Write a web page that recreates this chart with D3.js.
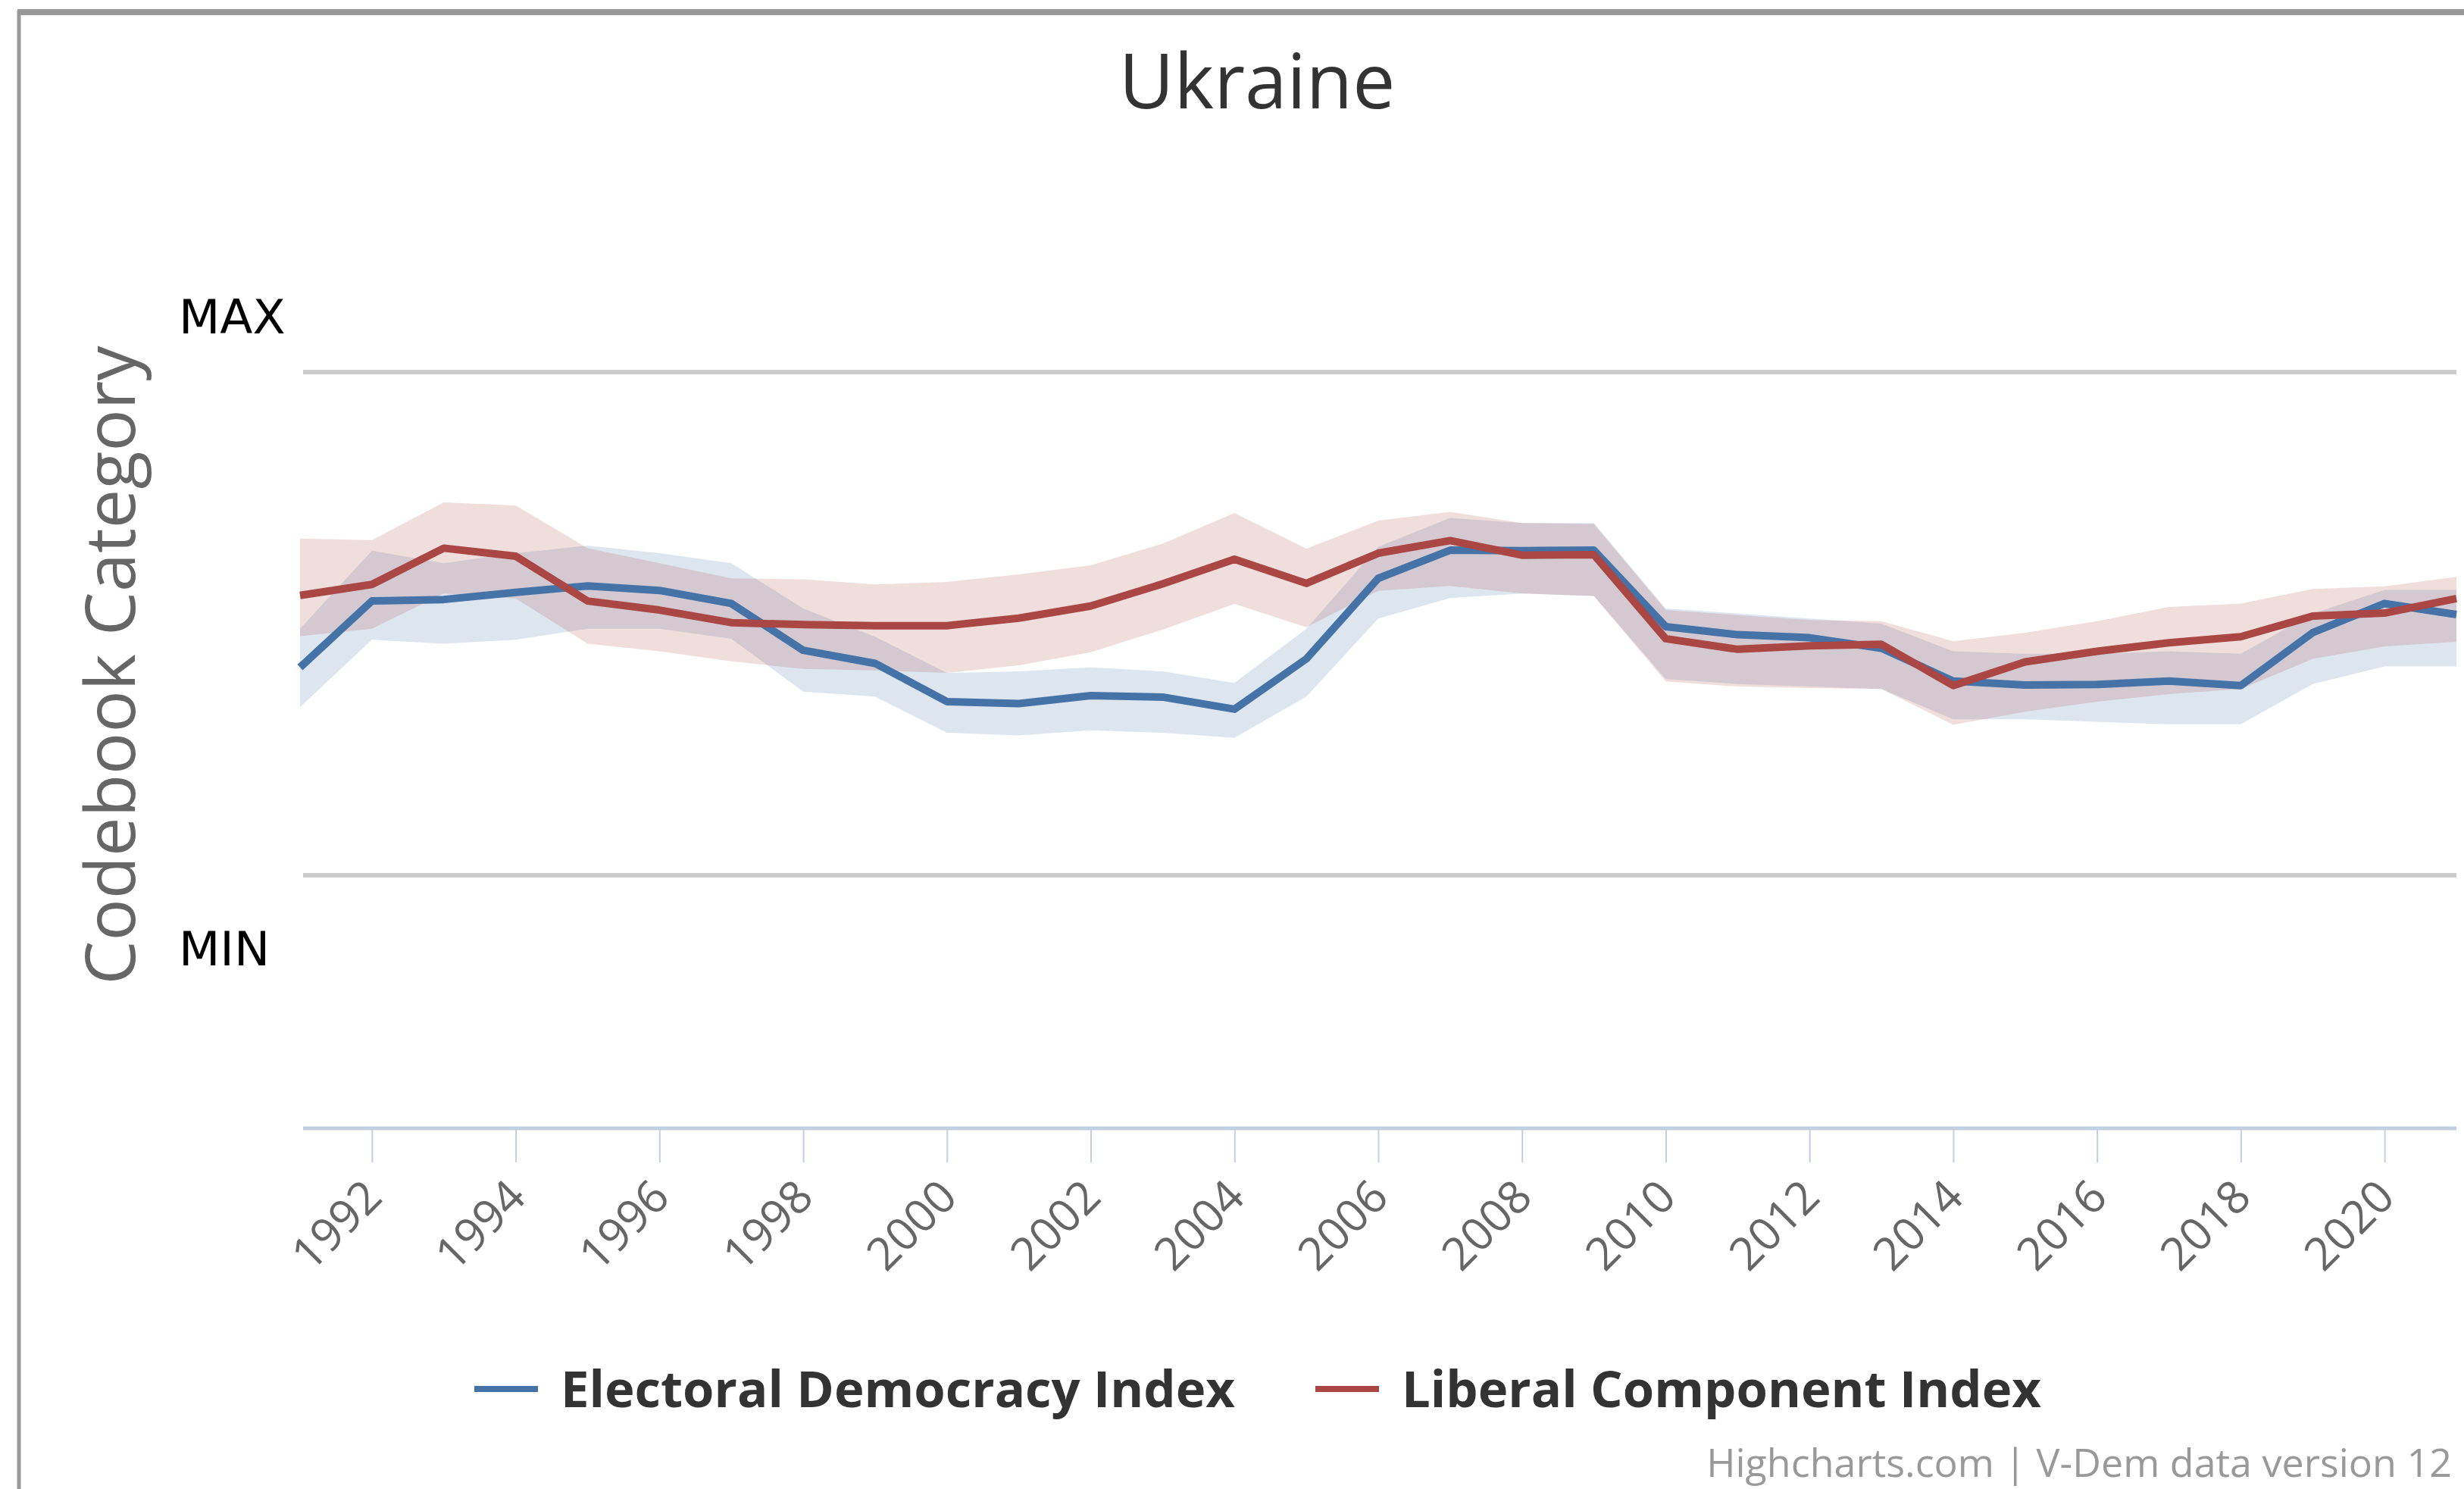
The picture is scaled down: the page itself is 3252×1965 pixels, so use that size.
<!DOCTYPE html>
<html>
<head>
<meta charset="utf-8">
<script src="https://cdn.jsdelivr.net/npm/d3@7"></script>
<style>
  html, body { margin: 0; padding: 0; background: #fff; }
  svg { display: block; }
</style>
</head>
<body>
<svg id="chart" width="3252" height="1965"></svg>
<script>
const years = d3.range(1991, 2022);
const tickYears = d3.range(1992, 2021, 2);

// Electoral Democracy Index (blue) with its uncertainty band
const ediValues = [0.413, 0.545, 0.548, 0.562, 0.575, 0.566, 0.540, 0.447, 0.421, 0.345,
  0.341, 0.357, 0.354, 0.330, 0.430, 0.590, 0.646, 0.645, 0.646, 0.494,
  0.478, 0.472, 0.451, 0.386, 0.378, 0.379, 0.386, 0.377, 0.482, 0.540, 0.518];
const ediHigh = [0.490, 0.645, 0.620, 0.640, 0.655, 0.640, 0.620, 0.530, 0.474, 0.402,
  0.405, 0.413, 0.405, 0.382, 0.490, 0.653, 0.710, 0.700, 0.700, 0.530,
  0.520, 0.510, 0.500, 0.445, 0.440, 0.440, 0.445, 0.440, 0.520, 0.567, 0.567];
const ediLow = [0.334, 0.468, 0.460, 0.468, 0.490, 0.490, 0.470, 0.365, 0.355, 0.283,
  0.278, 0.288, 0.283, 0.273, 0.355, 0.510, 0.551, 0.560, 0.555, 0.390,
  0.380, 0.375, 0.370, 0.310, 0.310, 0.305, 0.300, 0.300, 0.380, 0.415, 0.415];

// Liberal Component Index (red) with its uncertainty band
const lciValues = [0.556, 0.578, 0.650, 0.634, 0.545, 0.527, 0.502, 0.498, 0.496, 0.496,
  0.511, 0.535, 0.579, 0.628, 0.580, 0.640, 0.665, 0.636, 0.637, 0.470,
  0.449, 0.456, 0.459, 0.377, 0.424, 0.445, 0.462, 0.474, 0.515, 0.521, 0.550];
const lciHigh = [0.669, 0.666, 0.741, 0.735, 0.650, 0.620, 0.590, 0.588, 0.578, 0.583,
  0.598, 0.616, 0.659, 0.720, 0.649, 0.705, 0.722, 0.700, 0.698, 0.527,
  0.517, 0.507, 0.505, 0.465, 0.482, 0.505, 0.533, 0.540, 0.569, 0.574, 0.593];
const lciLow = [0.475, 0.490, 0.560, 0.550, 0.460, 0.445, 0.425, 0.410, 0.407, 0.402,
  0.417, 0.443, 0.488, 0.539, 0.493, 0.565, 0.575, 0.560, 0.555, 0.385,
  0.375, 0.372, 0.370, 0.299, 0.325, 0.345, 0.360, 0.370, 0.430, 0.455, 0.464];

const seriesNames = ['Electoral Democracy Index', 'Liberal Component Index'];
const seriesColors = ['#4572A7', '#AA4643'];

const svg = d3.select('#chart');

// chart frame
svg.append('line').attr('x1', 25).attr('x2', 25).attr('y1', 14).attr('y2', 1965)
  .attr('stroke', '#999').attr('stroke-width', 5);
svg.append('line').attr('x1', 23).attr('x2', 3252).attr('y1', 16).attr('y2', 16)
  .attr('stroke', '#999').attr('stroke-width', 8);

const x = d3.scaleLinear()
  .domain([1991, 2021])
  .range([396, 3242]);
const y = d3.scaleLinear()
  .domain([0, 1])
  .range([1155, 491]);

svg.append('text')
  .attr('x', 1659).attr('y', 143)
  .attr('text-anchor', 'middle')
  .attr('font-family', 'Open Sans')
  .attr('font-size', 100)
  .attr('fill', '#333')
  .text('Ukraine');

// MAX / MIN grid lines
[1, 0].forEach(v => {
  svg.append('line')
    .attr('x1', 400).attr('x2', 3242)
    .attr('y1', y(v)).attr('y2', y(v))
    .attr('stroke', '#cccccc').attr('stroke-width', 6);
});
svg.append('text').attr('x', 236).attr('y', y(1) - 51)
  .attr('font-family', 'DejaVu Sans').attr('font-size', 63).attr('fill', '#000')
  .text('MAX');
svg.append('text').attr('x', 236).attr('y', y(0) + 119)
  .attr('font-family', 'DejaVu Sans').attr('font-size', 63).attr('fill', '#000')
  .text('MIN');

svg.append('text')
  .attr('transform', 'translate(178,878) rotate(-90)')
  .attr('text-anchor', 'middle')
  .attr('font-family', 'Open Sans')
  .attr('font-size', 92)
  .attr('fill', '#666')
  .text('Codebook Category');

// bands then lines
const bands = [
  { lo: ediLow, hi: ediHigh, color: seriesColors[0] },
  { lo: lciLow, hi: lciHigh, color: seriesColors[1] }
];
const area = d3.area()
  .x(d => x(d.year))
  .y0(d => y(d.lo))
  .y1(d => y(d.hi));

bands.forEach(b => {
  const rows = years.map((yr, i) => ({ year: yr, lo: b.lo[i], hi: b.hi[i] }));
  svg.append('path')
    .datum(rows)
    .attr('d', area)
    .attr('fill', b.color)
    .attr('fill-opacity', 0.18);
});

const line = d3.line()
  .x(d => x(d.year))
  .y(d => y(d.v));

[ediValues, lciValues].forEach((vals, k) => {
  svg.append('path')
    .datum(years.map((yr, i) => ({ year: yr, v: vals[i] })))
    .attr('d', line)
    .attr('fill', 'none')
    .attr('stroke', seriesColors[k])
    .attr('stroke-width', 10)
    .attr('stroke-linejoin', 'round');
});

// x axis
const xAxis = svg.append('g')
  .attr('transform', 'translate(0,1489)')
  .call(d3.axisBottom(x).tickValues(tickYears).tickFormat(d3.format('d'))
    .tickSize(45).tickSizeOuter(0));
xAxis.select('.domain').remove();
xAxis.append('line')
  .attr('x1', 400).attr('x2', 3242).attr('y1', 0).attr('y2', 0)
  .attr('stroke', '#C0D0E0').attr('stroke-width', 5);
xAxis.selectAll('.tick line').attr('stroke', '#C0D0E0').attr('stroke-width', 2);
xAxis.selectAll('.tick text')
  .attr('font-family', 'Open Sans')
  .attr('font-size', 60)
  .attr('fill', '#666')
  .attr('text-anchor', 'end')
  .attr('dy', null)
  .attr('y', 0)
  .attr('transform', 'translate(16,94) rotate(-45)');

// legend
const legend = svg.append('g');
let lx = 626;
seriesNames.forEach((name, k) => {
  legend.append('line')
    .attr('x1', lx).attr('x2', lx + 84)
    .attr('y1', 1833).attr('y2', 1833)
    .attr('stroke', seriesColors[k]).attr('stroke-width', 8);
  const t = legend.append('text')
    .attr('x', lx + 114).attr('y', 1857)
    .attr('font-family', 'Open Sans')
    .attr('font-weight', 'bold')
    .attr('font-size', 67)
    .attr('fill', '#333')
    .text(name);
  lx += 114 + t.node().getComputedTextLength() + 106;
});

svg.append('text')
  .attr('x', 3236).attr('y', 1949)
  .attr('text-anchor', 'end')
  .attr('font-family', 'Open Sans')
  .attr('font-size', 52)
  .attr('fill', '#999')
  .text('Highcharts.com | V-Dem data version 12');
</script>
</body>
</html>
